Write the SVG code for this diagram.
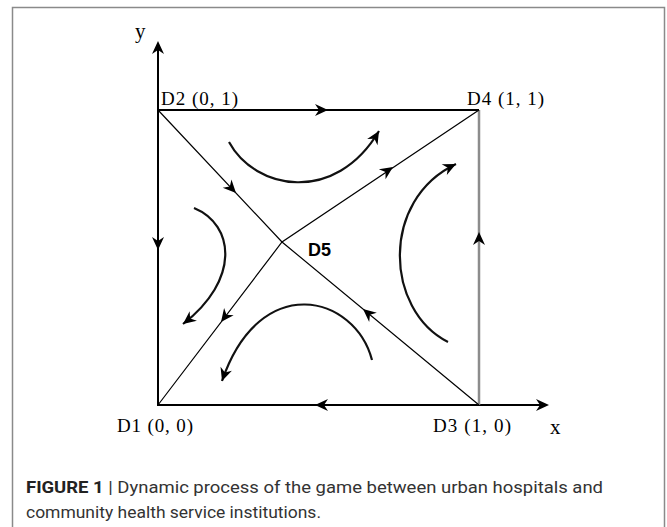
<svg xmlns="http://www.w3.org/2000/svg" xmlns:xlink="http://www.w3.org/1999/xlink" width="667" height="527" viewBox="0 0 667 527">
<style>
.frame{fill:#fff;stroke:#8a8a8a;stroke-width:1.5}
.axis{stroke:#000;stroke-width:2;fill:none}
.edge{stroke:#000;stroke-width:2;fill:none}
.gray{stroke:#8c8c8c;stroke-width:2.5;fill:none}
.diag{stroke:#000;stroke-width:1.2;fill:none}
.flow{stroke:#111;stroke-width:2.2;fill:none;marker-end:url(#arr)}
.lbl{font-family:"Liberation Serif",serif;font-size:19px;fill:#000}
.ax{font-family:"Liberation Serif",serif;font-size:21px;fill:#000}
.d5{font-family:"Liberation Sans",Arial,sans-serif;font-size:18px;font-weight:bold;fill:#000}
.cap{font-family:Roboto,"Liberation Sans",sans-serif;font-size:16px;fill:#333}
</style>
<defs>
<path id="ah" d="M0,0 L-13,-6 L-9,0 L-13,6 Z" fill="#000"/>
<marker id="arr" viewBox="-14 -7 15 14" refX="0" refY="0" markerWidth="15" markerHeight="14" markerUnits="userSpaceOnUse" orient="auto">
<path d="M0,0 L-13,-6 L-9,0 L-13,6 Z" fill="#000"/>
</marker>
</defs>
<rect class="frame" x="12.5" y="7.5" width="652" height="522"/>
<g id="connectors">
<line class="axis" x1="158" y1="405" x2="158" y2="44"/>
<line class="axis" x1="157" y1="405" x2="546" y2="405"/>
<line class="edge" x1="158" y1="110" x2="479" y2="110"/>
<line class="gray" x1="479" y1="110" x2="479" y2="405"/>
<polyline class="diag" points="158,110 282,242 479,405"/>
<polyline class="diag" points="158,405 282,242 479,110"/>
<use xlink:href="#ah" transform="translate(158,41) rotate(-90)"/>
<use xlink:href="#ah" transform="translate(549,405)"/>
<use xlink:href="#ah" transform="translate(328,110)"/>
<use xlink:href="#ah" transform="translate(158,250) rotate(90)"/>
<use xlink:href="#ah" transform="translate(479,232) rotate(-90)"/>
<use xlink:href="#ah" transform="translate(315,405) rotate(180)"/>
<use xlink:href="#ah" transform="translate(236,193) rotate(46.8)"/>
<use xlink:href="#ah" transform="translate(393,167) rotate(-33.8)"/>
<use xlink:href="#ah" transform="translate(363,309) rotate(-140.4)"/>
<use xlink:href="#ah" transform="translate(221,322) rotate(127.3)"/>
<path class="flow" d="M229,142 C255,190 335,205 379,131"/>
<path class="flow" d="M194,208 C235,225 240,280 183,324"/>
<path class="flow" d="M372,360 C355,295 260,270 222,381"/>
<path class="flow" d="M448,342 C385,310 380,200 456,164"/>
</g>
<g id="axis-y"><text class="ax" x="135" y="38">y</text></g>
<g id="axis-x"><text class="ax" x="550" y="434">x</text></g>
<g id="D2"><text class="lbl" x="161" y="105" textLength="77">D2 (0, 1)</text></g>
<g id="D4"><text class="lbl" x="467" y="105" textLength="77">D4 (1, 1)</text></g>
<g id="D1"><text class="lbl" x="117" y="432" textLength="76">D1 (0, 0)</text></g>
<g id="D3"><text class="lbl" x="433" y="432" textLength="78">D3 (1, 0)</text></g>
<g id="D5"><text class="d5" x="308" y="256">D5</text></g>
<g id="caption">
<text class="cap" x="26" y="493" textLength="577" lengthAdjust="spacingAndGlyphs"><tspan font-weight="bold" fill="#222">FIGURE 1</tspan> | Dynamic process of the game between urban hospitals and</text>
<text class="cap" x="26" y="518" textLength="295" lengthAdjust="spacingAndGlyphs">community health service institutions.</text>
</g>
</svg>
